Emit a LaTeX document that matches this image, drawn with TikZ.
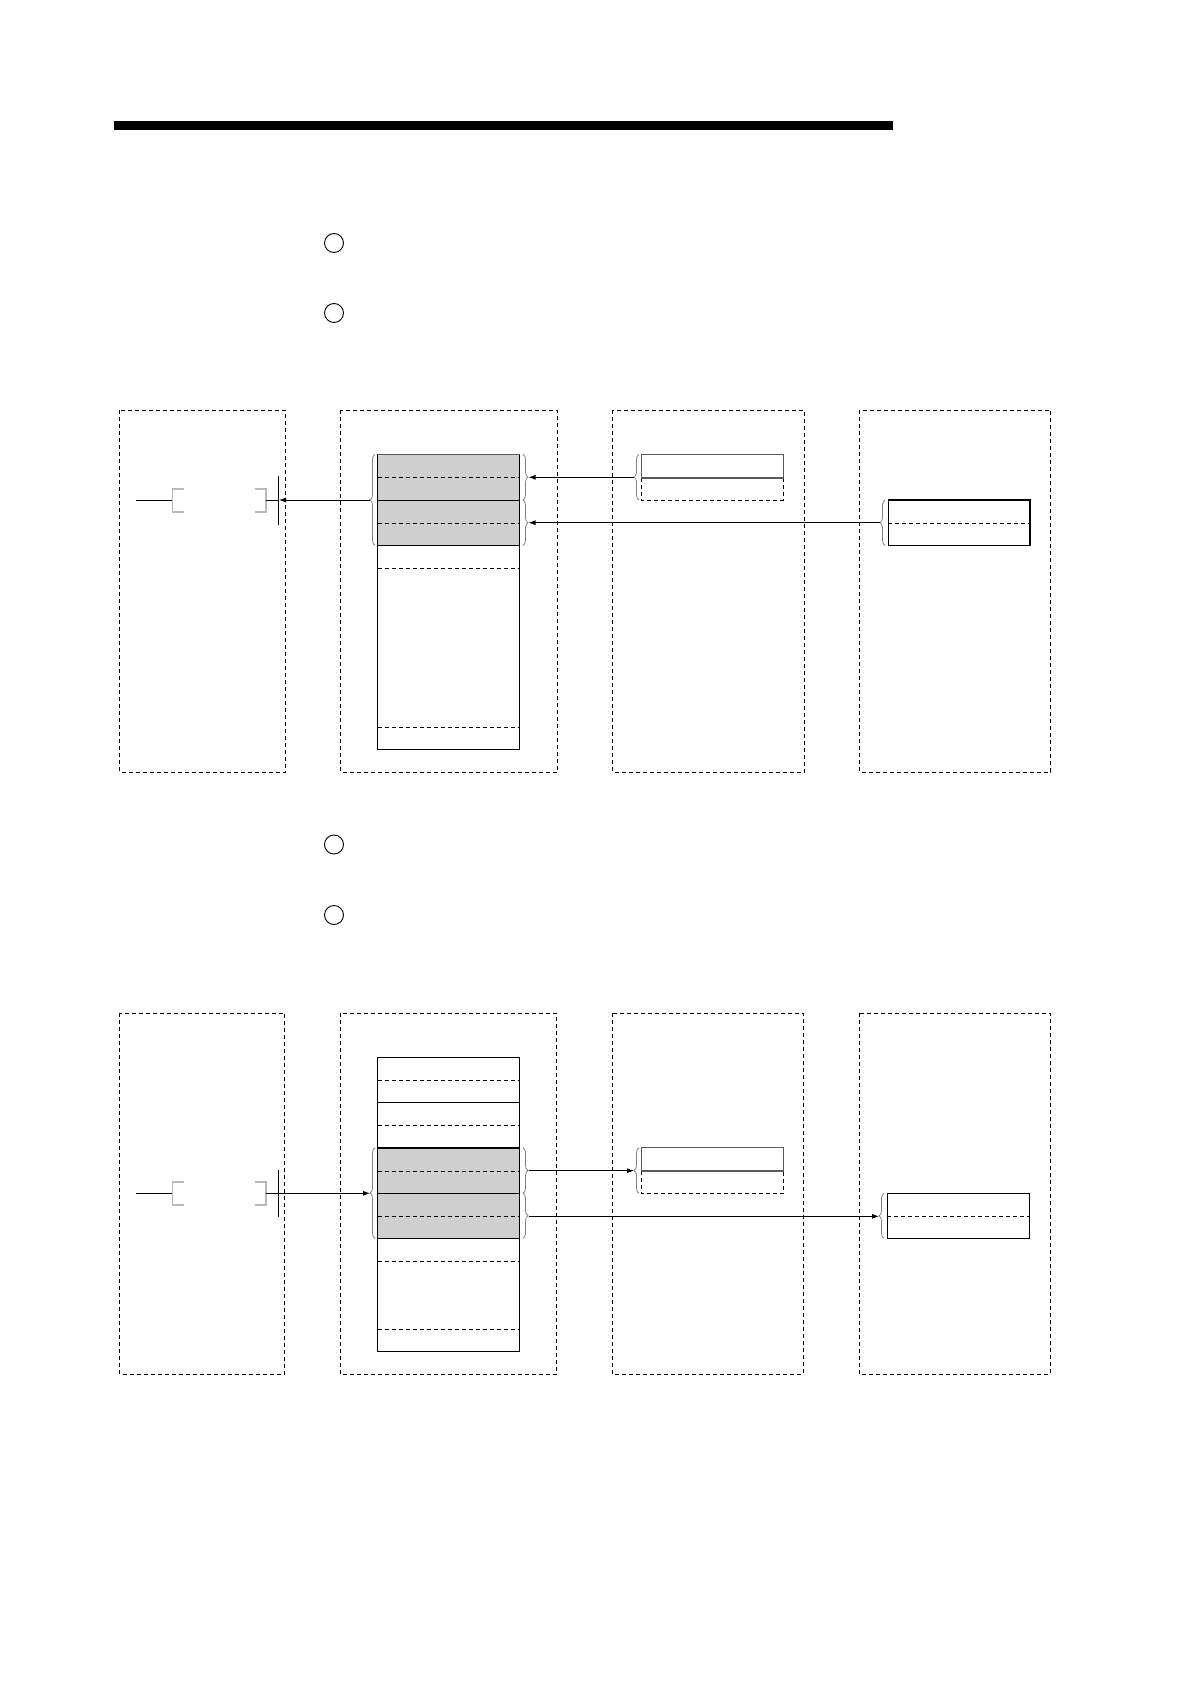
\documentclass[tikz,border=0pt]{standalone}
\usetikzlibrary{decorations.pathreplacing,arrows.meta}
\definecolor{cellgray}{gray}{0.81}
\definecolor{dgray}{gray}{0.35}
\begin{document}
\begin{tikzpicture}[x=1pt,y=-1pt,
 panel/.style={draw, dash pattern=on 4pt off 3pt, line width=0.9pt},
 cellbox/.style={draw, line width=1.1pt},
 dsh/.style={dash pattern=on 4pt off 3pt, line width=0.9pt},
 sol/.style={line width=1pt},
 brc/.style={draw=gray, line width=0.8pt, decorate, decoration={brace, amplitude=5pt}},
 arr/.style={-{Latex[length=7pt,width=5pt]}, line width=0.9pt},
 lbr/.style={draw=gray!55, line width=1.1pt},
 mark circle/.style={circle, draw, line width=0.9pt, minimum size=19pt, inner sep=0pt}]
\useasboundingbox (0,0) rectangle (1191,1685);
% heading bar
\fill (114,121) rectangle (893,130);
% circled markers
\node[mark circle] (c1) at (334,243) {};
\node[mark circle] (c2) at (334,313) {};
\node[mark circle] (c3) at (334,844.5) {};
\node[mark circle] (c4) at (334,915) {};

% ================= TOP SECTION =================
\draw[panel] (119.5,410.3) rectangle (285.5,772);
\draw[panel] (340.3,410.3) rectangle (557.3,772);
\draw[panel] (612.3,410.3) rectangle (804.3,772);
\draw[panel] (859.3,410.3) rectangle (1050.7,772);
% main table
\fill[cellgray] (377.5,454.3) rectangle (519.8,545.3);
\draw[dsh] (377.5,477.5) -- (519.8,477.5);
\draw[sol] (377.5,500) -- (519.8,500);
\draw[dsh] (377.5,523) -- (519.8,523);
\draw[sol] (377.5,545.3) -- (519.8,545.3);
\draw[dsh] (377.5,568.3) -- (519.8,568.3);
\draw[dsh] (377.5,727.3) -- (519.8,727.3);
\draw[cellbox] (377.5,454.3) rectangle (519.8,749.3);
\draw[draw=dgray,line width=1.4pt] (377.5,454.3) -- (519.8,454.3);
% braces on main table
\draw[brc] (375,545.3) -- (375,454.3);
\coordinate (tL) at (370,500);
\draw[brc] (523,454.3) -- (523,500);
\coordinate (tR1) at (528.5,477.3);
\draw[brc] (523,500) -- (523,545.3);
\coordinate (tR2) at (528.5,522.7);
% ladder
\draw[sol] (136,500) -- (172.7,500);
\draw[lbr] (184,489) -- (172.7,489) -- (172.7,512) -- (184,512);
\draw[lbr] (255,489) -- (266,489) -- (266,512) -- (255,512);
\draw[sol] (266,500) -- (278.3,500);
\draw[line width=1.1pt] (278.3,476) -- (278.3,525);
\coordinate (lad1) at (279,500);
% third panel table
\draw[dsh] (641.3,478) -- (641.3,500) -- (783.3,500) -- (783.3,478);
\draw[draw=dgray,line width=1.5pt] (641.3,454.3) rectangle (783.3,478);
\draw[brc] (639,500) -- (639,454.3);
\coordinate (t3) at (634,477.3);
% fourth panel table
\draw[dsh] (888.3,523) -- (1030,523);
\draw[cellbox] (888.3,500) rectangle (1030,545.3);
\draw[brc] (885,545.3) -- (885,500);
\coordinate (t4) at (880,522.7);
% arrows
\draw[arr] (tL) -- (lad1);
\draw[arr] (t3) -- (tR1);
\draw[arr] (t4) -- (tR2);

% ================= BOTTOM SECTION =================
\draw[panel] (119.5,1013.3) rectangle (284.5,1374.3);
\draw[panel] (340.3,1013.3) rectangle (556.6,1374.3);
\draw[panel] (612.3,1013.3) rectangle (803.3,1374.3);
\draw[panel] (859,1013.3) rectangle (1050,1374.3);
% main table
\fill[cellgray] (377.5,1147.7) rectangle (519.8,1238.3);
\draw[dsh] (377.5,1080.3) -- (519.8,1080.3);
\draw[sol] (377.5,1102.5) -- (519.8,1102.5);
\draw[dsh] (377.5,1125.3) -- (519.8,1125.3);
\draw[line width=1.6pt] (377.5,1147.7) -- (519.8,1147.7);
\draw[dsh] (377.5,1171) -- (519.8,1171);
\draw[sol] (377.5,1193.3) -- (519.8,1193.3);
\draw[dsh] (377.5,1216.5) -- (519.8,1216.5);
\draw[sol] (377.5,1238.3) -- (519.8,1238.3);
\draw[dsh] (377.5,1261.3) -- (519.8,1261.3);
\draw[dsh] (377.5,1329.3) -- (519.8,1329.3);
\draw[cellbox] (377.5,1057.3) rectangle (519.8,1351.7);
% braces
\draw[brc] (375,1238.3) -- (375,1147.7);
\coordinate (bL) at (370,1193.3);
\draw[brc] (523,1147.7) -- (523,1193.3);
\coordinate (bR1) at (528.5,1170.7);
\draw[brc] (523,1193.3) -- (523,1238.3);
\coordinate (bR2) at (528.5,1216.3);
% ladder
\draw[sol] (136,1193.3) -- (172.7,1193.3);
\draw[lbr] (184,1182) -- (172.7,1182) -- (172.7,1205) -- (184,1205);
\draw[lbr] (255,1182) -- (266,1182) -- (266,1205) -- (255,1205);
\draw[sol] (266,1193.3) -- (278.3,1193.3);
\draw[line width=1.1pt] (278.3,1170) -- (278.3,1217.3);
\coordinate (lad2) at (278.3,1193.3);
% third panel table
\draw[dsh] (641.3,1171) -- (641.3,1193.3) -- (783.3,1193.3) -- (783.3,1171);
\draw[draw=dgray,line width=1.5pt] (641.3,1147.7) rectangle (783.3,1171);
\draw[brc] (639,1193.3) -- (639,1147.7);
\coordinate (b3) at (634,1170.7);
% fourth panel table
\draw[dsh] (887.3,1216.3) -- (1029.3,1216.3);
\draw[cellbox] (887.3,1193.3) rectangle (1029.3,1238.3);
\draw[brc] (884,1238.3) -- (884,1193.3);
\coordinate (b4) at (879,1216.3);
% arrows
\draw[arr] (lad2) -- (bL);
\draw[arr] (bR1) -- (b3);
\draw[arr] (bR2) -- (b4);
\end{tikzpicture}
\end{document}
